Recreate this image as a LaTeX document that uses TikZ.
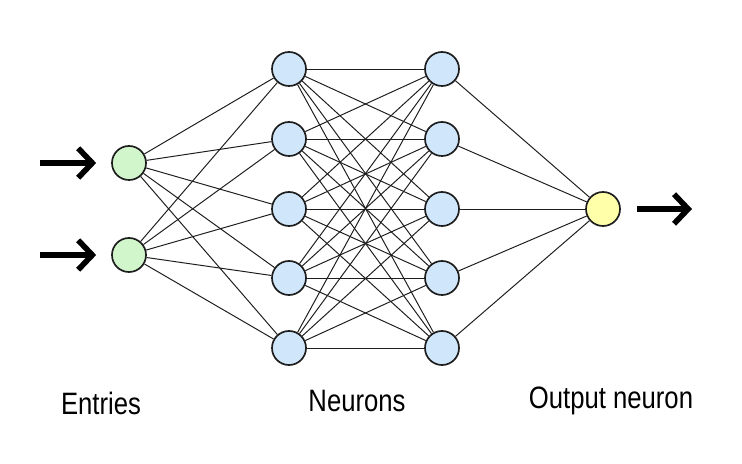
\documentclass[tikz,border=0pt]{standalone}
\usepackage{fontspec}
\setmainfont{Liberation Sans}
\usepackage{tikz}
\usetikzlibrary{arrows,arrows.meta,positioning,calc}
\definecolor{nnblack}{RGB}{30,30,30}
\definecolor{nngreen}{RGB}{210,246,204}
\definecolor{nnblue}{RGB}{208,230,250}
\definecolor{nnyellow}{RGB}{255,255,170}
\tikzstyle{bigarrow} = [line width=4pt,-{Straight Barb[length=10pt,width=21pt,line width=4pt]},color=black]
\tikzstyle{link} = [line width=0.7pt,color=nnblack]
\tikzstyle{inneuron} = [circle, minimum size=0.85cm, inner sep=0pt, draw=nnblack, fill=nngreen, line width=1.2pt]
\tikzstyle{hidneuron} = [circle, minimum size=0.85cm, inner sep=0pt, draw=nnblack, fill=nnblue, line width=1.2pt]
\tikzstyle{outneuron} = [circle, minimum size=0.85cm, inner sep=0pt, draw=nnblack, fill=nnyellow, line width=1.2pt]
\tikzstyle{caption} = [font=\fontsize{22}{25}\selectfont, xscale=0.83, anchor=base]

\begin{document}
\begin{tikzpicture}[x=0.025cm,y=-0.025cm]
\useasboundingbox (0,0) rectangle (742,464);
% Entries
\node[inneuron] (e1) at (129,163) {};
\node[inneuron] (e2) at (129,255) {};
% Neurons
\foreach \i/\y in {1/69,2/139,3/209,4/278,5/348} {
  \node[hidneuron] (a\i) at (289,\y) {};
  \node[hidneuron] (b\i) at (442,\y) {};
}
% Output neuron
\node[outneuron] (out) at (603,209) {};

% Links
\foreach \i in {1,2} \foreach \j in {1,...,5} \draw[link] (e\i) -- (a\j);
\foreach \i in {1,...,5} \foreach \j in {1,...,5} \draw[link] (a\i) -- (b\j);
\foreach \j in {1,...,5} \draw[link] (b\j) -- (out);

% In and out arrows
\coordinate (in1) at (40,163);
\coordinate (in2) at (40,255);
\coordinate (in1tip) at ($(e1.west)+(-15,0)$);
\coordinate (in2tip) at ($(e2.west)+(-15,0)$);
\coordinate (resstart) at ($(out.east)+(16,0)$);
\coordinate (res) at (692,209);
\draw[bigarrow] (in1) -- (in1tip);
\draw[bigarrow] (in2) -- (in2tip);
\draw[bigarrow] (resstart) -- (res);

% Captions
\node[caption] (lentries) at (101,414) {Entries};
\node[caption] (lneurons) at (357,411) {Neurons};
\node[caption] (loutput) at (611,408) {Output neuron};
\end{tikzpicture}
\end{document}
